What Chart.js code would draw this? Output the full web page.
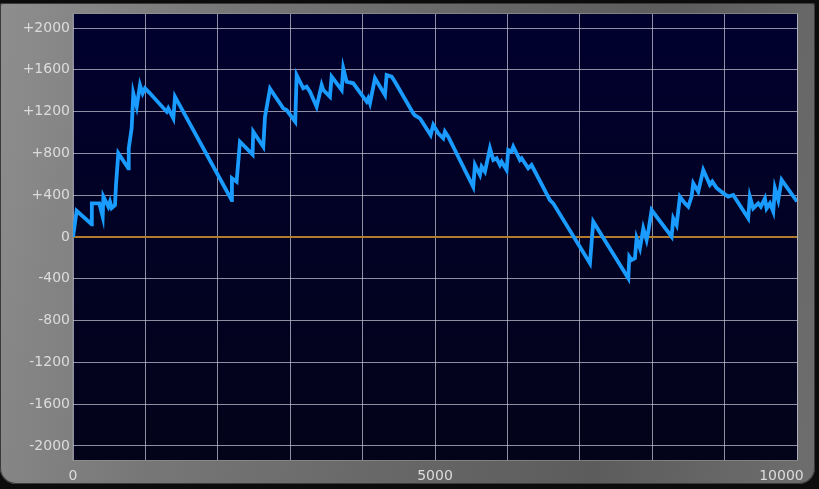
<!DOCTYPE html>
<html>
<head>
<meta charset="utf-8">
<script src="https://cdn.jsdelivr.net/npm/chart.js@4.4.1/dist/chart.umd.min.js"></script>
<style>
  html, body { margin: 0; padding: 0; background: #0c0c0c; }
  #frame {
    position: absolute; left: 0; top: 3px; width: 815px; height: 481px;
    border-radius: 3px 3px 16px 16px;
    background: linear-gradient(100deg, #8e8e8e 0%, #777 25%, #666 55%, #5c5c5c 75%, #6e6e6e 100%);
    box-shadow: inset 0 0 0 1px #3a3a3a;
  }
  #wrap { position: absolute; left: 0; top: 0; width: 819px; height: 489px; }
</style>
</head>
<body>
<div id="frame"></div>
<div id="wrap"><canvas id="chart" width="819" height="489"></canvas></div>
<script>
// equity curve
const stepX = [0, 50, 258, 260, 363, 410, 420, 488, 511, 534, 580, 594, 626, 764, 770, 810, 833, 880, 925, 962,
  995, 1063, 1294, 1316, 1386, 1409, 2191, 2195, 2260, 2306, 2480, 2490, 2628, 2652, 2721, 2904, 2950, 3070, 3089, 3180,
  3227, 3273, 3365, 3434, 3457, 3549, 3572, 3711, 3733, 3780, 3871, 4056, 4078, 4102, 4171, 4309, 4332, 4401, 4447, 4700,
  4720, 4792, 4940, 4976, 5045, 5114, 5137, 5183, 5528, 5552, 5621, 5644, 5690, 5759, 5805, 5851, 5897, 5920, 5989, 6012,
  6058, 6081, 6173, 6196, 6288, 6334, 6587, 6633, 7140, 7186, 7670, 7684, 7716, 7761, 7785, 7831, 7877, 7923, 7946, 7992,
  8268, 8291, 8337, 8383, 8452, 8498, 8544, 8567, 8636, 8705, 8797, 8830, 8889, 8980, 9050, 9119, 9326, 9349, 9395, 9464,
  9500, 9557, 9580, 9626, 9672, 9695, 9741, 9787, 10000];
const profit = [0, 250, 122, 322, 322, 194, 386, 290, 338, 277, 306, 498, 801, 657, 849, 1040, 1375, 1247, 1455, 1375,
  1423, 1375, 1199, 1231, 1136, 1343, 354, 562, 529, 912, 790, 1008, 864, 1151, 1420, 1231, 1215, 1103, 1550, 1423,
  1439, 1391, 1247, 1455, 1407, 1343, 1534, 1407, 1614, 1486, 1471, 1295, 1327, 1279, 1519, 1359, 1550, 1534, 1486, 1183,
  1165, 1136, 976, 1072, 992, 944, 1008, 960, 481, 689, 593, 673, 625, 849, 737, 753, 689, 721, 641, 833,
  817, 864, 737, 753, 657, 689, 354, 322, -252, 146, -395, -188, -220, -204, -13, -108, 83, -29, 51, 258,
  3, 179, 115, 386, 322, 290, 386, 514, 434, 641, 500, 530, 470, 420, 386, 402, 179, 386, 274, 322,
  290, 370, 274, 322, 242, 466, 354, 546, 340];
const yTicks = [-2000, -1600, -1200, -800, -400, 0, 400, 800, 1200, 1600, 2000];
const xLabels = [0, 5000, 10000];

const plotBg = {
  id: 'plotBg',
  beforeDraw(chart) {
    const { ctx, chartArea: a } = chart;
    const g = ctx.createLinearGradient(0, a.top, 0, a.bottom);
    g.addColorStop(0, '#00002e');
    g.addColorStop(1, '#03031a');
    ctx.save();
    ctx.fillStyle = g;
    ctx.fillRect(a.left, a.top, a.right - a.left, a.bottom - a.top);
    ctx.strokeStyle = 'rgba(150,150,150,0.6)';
    ctx.lineWidth = 1;
    ctx.strokeRect(a.left - 0.5, a.top - 0.5, a.right - a.left + 1, a.bottom - a.top + 1);
    ctx.restore();
  }
};

new Chart(document.getElementById('chart'), {
  type: 'line',
  data: {
    datasets: [{
      data: stepX.map((x, i) => ({ x: x, y: profit[i] })),
      borderColor: '#1a9bff',
      borderWidth: 3.8,
      pointRadius: 0,
      tension: 0,
      borderJoinStyle: 'miter'
    }]
  },
  options: {
    responsive: false,
    animation: false,
    layout: { padding: { top: 14, right: 22, left: 0, bottom: 0 } },
    plugins: { legend: { display: false }, tooltip: { enabled: false } },
    scales: {
      x: {
        type: 'linear', min: 0, max: 10000,
        afterFit: s => { s.height = 29; s.paddingRight = 0; s.paddingLeft = 0; },
        ticks: {
          stepSize: 1000, padding: 8, color: '#dcdcdc', maxRotation: 0, autoSkip: false,
          font: { family: 'DejaVu Sans', size: 14 },
          callback: v => xLabels.includes(v) ? (v === 10000 ? v + '       ' : String(v)) : ''
        },
        grid: { color: 'rgba(190,190,205,0.75)', lineWidth: 1, drawTicks: false },
        border: { display: false }
      },
      y: {
        min: -2134, max: 2134,
        afterFit: s => { s.width = 73; },
        afterBuildTicks: s => { s.ticks = yTicks.map(v => ({ value: v })); },
        ticks: {
          padding: 3, color: '#dcdcdc',
          font: { family: 'DejaVu Sans', size: 14 },
          callback: v => v > 0 ? '+' + v : String(v)
        },
        grid: {
          drawTicks: false,
          color: c => c.tick && c.tick.value === 0 ? '#b07c2c' : 'rgba(190,190,205,0.75)',
          lineWidth: c => c.tick && c.tick.value === 0 ? 2 : 1
        },
        border: { display: false }
      }
    }
  },
  plugins: [plotBg]
});
</script>
</body>
</html>
